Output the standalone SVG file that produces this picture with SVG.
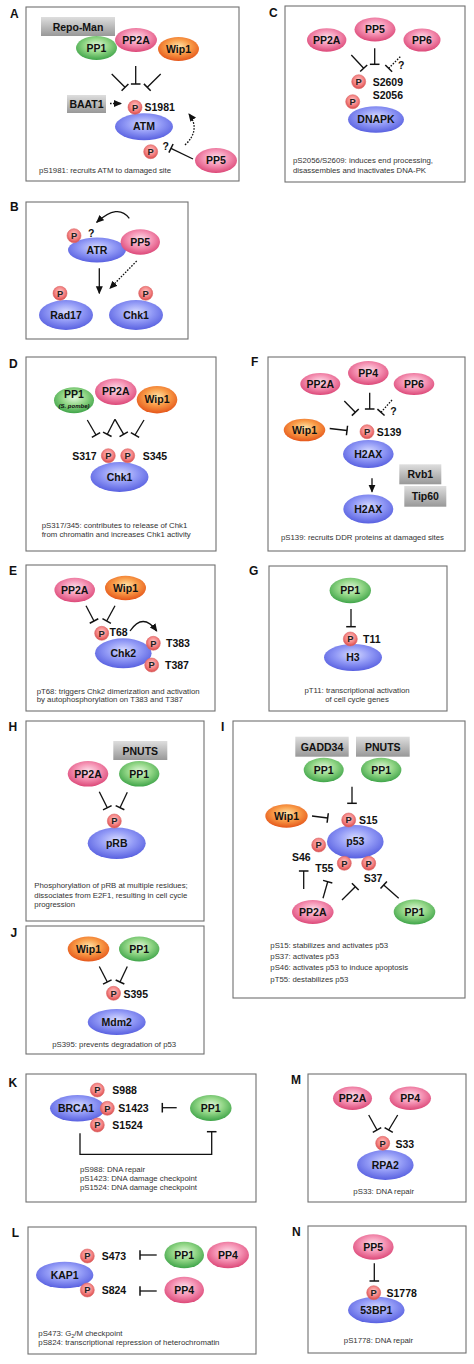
<svg xmlns="http://www.w3.org/2000/svg" width="474" height="1364" viewBox="0 0 474 1364">
<defs>
<style>
.bx{fill:#fff;stroke:#707070;stroke-width:1.1}
.pl{font-family:"Liberation Sans",Arial,sans-serif;font-weight:bold;font-size:12px;fill:#111}
.nt{font-family:"Liberation Sans",Arial,sans-serif;font-weight:bold;font-size:10.5px;fill:#111;text-anchor:middle}
.st{font-family:"Liberation Sans",Arial,sans-serif;font-weight:bold;font-size:10.5px;fill:#111}
.pt{font-family:"Liberation Sans",Arial,sans-serif;font-weight:bold;font-size:9.3px;fill:#222;text-anchor:middle}
.cap{font-family:"Liberation Sans",Arial,sans-serif;font-size:7.8px;fill:#333}
.g{fill:url(#gG)}.k{fill:url(#gK)}.o{fill:url(#gO)}.b{fill:url(#gB)}.gr{fill:url(#gGr)}
.pc{fill:url(#gP);stroke:#dc6a6a;stroke-width:0.6}
.inh{fill:none;stroke:#111;stroke-width:1.3;marker-end:url(#tb)}
.arr{fill:none;stroke:#111;stroke-width:1.3;marker-end:url(#ah)}
.dt{stroke-dasharray:1.6 1.4}
</style>
<radialGradient id="gG" cx="0.5" cy="0.4" r="0.6"><stop offset="0" stop-color="#e2f8dc"/><stop offset="0.5" stop-color="#92d686"/><stop offset="1" stop-color="#3fa449"/></radialGradient>
<radialGradient id="gK" cx="0.5" cy="0.4" r="0.6"><stop offset="0" stop-color="#fde2ec"/><stop offset="0.5" stop-color="#f593b4"/><stop offset="1" stop-color="#dc4878"/></radialGradient>
<radialGradient id="gO" cx="0.5" cy="0.4" r="0.6"><stop offset="0" stop-color="#ffe6aa"/><stop offset="0.5" stop-color="#f99c48"/><stop offset="1" stop-color="#e5561a"/></radialGradient>
<radialGradient id="gB" cx="0.5" cy="0.4" r="0.6"><stop offset="0" stop-color="#d6daff"/><stop offset="0.5" stop-color="#929af6"/><stop offset="1" stop-color="#5860e0"/></radialGradient>
<radialGradient id="gP" cx="0.5" cy="0.4" r="0.6"><stop offset="0" stop-color="#ffcaca"/><stop offset="0.6" stop-color="#f48282"/><stop offset="1" stop-color="#d84a4a"/></radialGradient>
<linearGradient id="gGr" x1="0" y1="0" x2="0" y2="1"><stop offset="0" stop-color="#dedede"/><stop offset="1" stop-color="#989898"/></linearGradient>
<marker id="tb" viewBox="-2 -6 4 12" refX="0" refY="0" markerWidth="4" markerHeight="12" orient="auto" markerUnits="userSpaceOnUse"><path d="M0,-4.8V4.8" stroke="#111" stroke-width="1.5"/></marker>
<marker id="ah" viewBox="0 -4 8 8" refX="7" refY="0" markerWidth="8" markerHeight="8" orient="auto" markerUnits="userSpaceOnUse"><path d="M0,-3.5L8,0L0,3.5z" fill="#111"/></marker>
</defs>
<rect width="474" height="1364" fill="#fff"/>

<!-- Panel A -->
<g id="panelA">
<rect class="bx" x="26" y="7" width="213" height="174"/>
<text class="pl" x="10" y="18">A</text>
<g id="A-RepoMan"><rect class="gr" x="41" y="17" width="74" height="19"/><text class="nt" x="78" y="30.5">Repo-Man</text></g>
<g id="A-PP1"><ellipse class="g" cx="96.5" cy="48" rx="20.5" ry="12"/><text class="nt" x="96.5" y="51.7">PP1</text></g>
<g id="A-Wip1"><ellipse class="o" cx="178.5" cy="49" rx="20.5" ry="12"/><text class="nt" x="178.5" y="52.7">Wip1</text></g>
<g id="A-PP2A"><ellipse class="k" cx="136" cy="40" rx="21" ry="12"/><text class="nt" x="136" y="43.7">PP2A</text></g>
<g id="A-BAAT1"><rect class="gr" x="67" y="95" width="39" height="18"/><text class="nt" x="86.5" y="107.7">BAAT1</text></g>
<g id="A-ATM"><ellipse class="b" cx="144" cy="126.7" rx="29" ry="13.5"/><text class="nt" x="144" y="130.4">ATM</text></g>
<g id="A-P1"><circle class="pc" cx="135" cy="107.3" r="7"/><text class="pt" x="135" y="110.6">P</text></g>
<text class="st" x="144.5" y="111">S1981</text>
<g id="A-P2"><circle class="pc" cx="150.7" cy="151.7" r="7"/><text class="pt" x="150.7" y="155">P</text></g>
<text class="st" x="162.5" y="150">?</text>
<g id="A-PP5"><ellipse class="k" cx="216" cy="160.5" rx="21" ry="12.5"/><text class="nt" x="216" y="164.2">PP5</text></g>
<text class="cap" x="39" y="173">pS1981: recruits ATM to damaged site</text>
</g>

<!-- Panel C -->
<g id="panelC">
<rect class="bx" x="285" y="6" width="180" height="176"/>
<text class="pl" x="269" y="16.7">C</text>
<g id="C-PP2A"><ellipse class="k" cx="326.7" cy="40" rx="19.7" ry="11.7"/><text class="nt" x="326.7" y="43.7">PP2A</text></g>
<g id="C-PP5"><ellipse class="k" cx="375" cy="29.5" rx="20.5" ry="12"/><text class="nt" x="375" y="33.2">PP5</text></g>
<g id="C-PP6"><ellipse class="k" cx="422" cy="40" rx="18.5" ry="11.5"/><text class="nt" x="422" y="43.7">PP6</text></g>
<text class="st" x="398" y="69">?</text>
<g id="C-DNAPK"><ellipse class="b" cx="376" cy="119.5" rx="28" ry="13.3"/><text class="nt" x="376" y="123.2">DNAPK</text></g>
<g id="C-P1"><circle class="pc" cx="358.7" cy="81.7" r="7"/><text class="pt" x="358.7" y="85">P</text></g>
<text class="st" x="372.7" y="85.5">S2609</text>
<g id="C-P2"><circle class="pc" cx="352.7" cy="101.7" r="7"/><text class="pt" x="352.7" y="105">P</text></g>
<text class="st" x="372.7" y="99">S2056</text>
<text class="cap" x="293" y="163.3">pS2056/S2609: induces end processing,</text>
<text class="cap" x="293" y="172.7">disassembles and inactivates DNA-PK</text>
</g>

<!-- Panel B -->
<g id="panelB">
<rect class="bx" x="26" y="202" width="162" height="137"/>
<text class="pl" x="10" y="211">B</text>
<g id="B-ATR"><ellipse class="b" cx="97" cy="250" rx="29" ry="12.5"/><text class="nt" x="97" y="253.7">ATR</text></g>
<g id="B-PP5"><ellipse class="k" cx="140.3" cy="242" rx="19.7" ry="12.8"/><text class="nt" x="140.3" y="245.7">PP5</text></g>
<g id="B-P1"><circle class="pc" cx="74" cy="235.7" r="7"/><text class="pt" x="74" y="239">P</text></g>
<text class="st" x="88" y="237">?</text>
<g id="B-Rad17"><ellipse class="b" cx="66" cy="315" rx="27" ry="15"/><text class="nt" x="66" y="318.7">Rad17</text></g>
<g id="B-Chk1"><ellipse class="b" cx="136" cy="315" rx="27" ry="15"/><text class="nt" x="136" y="318.7">Chk1</text></g>
<g id="B-P2"><circle class="pc" cx="60" cy="293.3" r="7"/><text class="pt" x="60" y="296.6">P</text></g>
<g id="B-P3"><circle class="pc" cx="145.7" cy="293.3" r="7"/><text class="pt" x="145.7" y="296.6">P</text></g>
</g>

<!-- Panel D -->
<g id="panelD">
<rect class="bx" x="26" y="357" width="190" height="194"/>
<text class="pl" x="9" y="367.7">D</text>
<g id="D-PP1"><ellipse class="g" cx="74" cy="400.3" rx="20" ry="13"/><text class="nt" x="74" y="398">PP1</text><text x="74" y="407.5" font-family="Liberation Sans, Arial, sans-serif" font-size="6" font-weight="bold" font-style="italic" fill="#111" text-anchor="middle">(S. pombe)</text></g>
<g id="D-Wip1"><ellipse class="o" cx="157" cy="399.7" rx="20.3" ry="13.7"/><text class="nt" x="157" y="403.4">Wip1</text></g>
<g id="D-PP2A"><ellipse class="k" cx="115.8" cy="391.7" rx="20.8" ry="13.3"/><text class="nt" x="115.8" y="395.4">PP2A</text></g>
<g id="D-Chk1"><ellipse class="b" cx="119.5" cy="477" rx="29" ry="15"/><text class="nt" x="119.5" y="480.7">Chk1</text></g>
<g id="D-P1"><circle class="pc" cx="108.3" cy="455.7" r="7"/><text class="pt" x="108.3" y="459">P</text></g>
<g id="D-P2"><circle class="pc" cx="127.7" cy="455.7" r="7"/><text class="pt" x="127.7" y="459">P</text></g>
<text class="st" x="96.7" y="459.5" text-anchor="end">S317</text>
<text class="st" x="142.7" y="459.5">S345</text>
<text class="cap" x="41.7" y="528.3">pS317/345: contributes to release of Chk1</text>
<text class="cap" x="41.7" y="536.5">from chromatin and increases Chk1 activity</text>
</g>

<!-- Panel F -->
<g id="panelF">
<rect class="bx" x="268" y="357" width="197" height="194"/>
<text class="pl" x="251" y="365.7">F</text>
<g id="F-PP2A"><ellipse class="k" cx="320.3" cy="384" rx="20" ry="11"/><text class="nt" x="320.3" y="387.7">PP2A</text></g>
<g id="F-PP4"><ellipse class="k" cx="368.3" cy="373" rx="20.3" ry="12"/><text class="nt" x="368.3" y="376.7">PP4</text></g>
<g id="F-PP6"><ellipse class="k" cx="414" cy="384" rx="20.3" ry="11"/><text class="nt" x="414" y="387.7">PP6</text></g>
<text class="st" x="390.3" y="415">?</text>
<g id="F-Wip1"><ellipse class="o" cx="304.5" cy="430" rx="20.8" ry="11.3"/><text class="nt" x="304.5" y="433.7">Wip1</text></g>
<g id="F-H2AX1"><ellipse class="b" cx="368.3" cy="454" rx="25.3" ry="14"/><text class="nt" x="368.3" y="457.7">H2AX</text></g>
<g id="F-P"><circle class="pc" cx="367" cy="431.7" r="7"/><text class="pt" x="367" y="435">P</text></g>
<text class="st" x="376.8" y="436">S139</text>
<g id="F-Rvb1"><rect class="gr" x="399.3" y="464.3" width="42" height="20"/><text class="nt" x="420.3" y="478">Rvb1</text></g>
<g id="F-Tip60"><rect class="gr" x="404.3" y="486" width="42" height="20.7"/><text class="nt" x="425.3" y="500">Tip60</text></g>
<g id="F-H2AX2"><ellipse class="b" cx="368.3" cy="509" rx="25" ry="14.5"/><text class="nt" x="368.3" y="512.7">H2AX</text></g>
<text class="cap" x="281" y="540">pS139: recruits DDR proteins at damaged sites</text>
</g>

<!-- Panel E -->
<g id="panelE">
<rect class="bx" x="26" y="565" width="189" height="146"/>
<text class="pl" x="9" y="575">E</text>
<g id="E-PP2A"><ellipse class="k" cx="74.7" cy="590" rx="20.3" ry="12.3"/><text class="nt" x="74.7" y="593.7">PP2A</text></g>
<g id="E-Wip1"><ellipse class="o" cx="125.5" cy="588" rx="20.5" ry="12.2"/><text class="nt" x="125.5" y="591.7">Wip1</text></g>
<g id="E-Chk2"><ellipse class="b" cx="123.3" cy="653.3" rx="28.3" ry="15"/><text class="nt" x="123.3" y="657">Chk2</text></g>
<g id="E-P1"><circle class="pc" cx="101.7" cy="633.3" r="7"/><text class="pt" x="101.7" y="636.6">P</text></g>
<text class="st" x="109.5" y="635.5">T68</text>
<g id="E-P2"><circle class="pc" cx="153.3" cy="643.3" r="7"/><text class="pt" x="153.3" y="646.6">P</text></g>
<text class="st" x="166" y="647">T383</text>
<g id="E-P3"><circle class="pc" cx="151.7" cy="665" r="7"/><text class="pt" x="151.7" y="668.3">P</text></g>
<text class="st" x="165" y="668.5">T387</text>
<text class="cap" x="36.7" y="694">pT68: triggers Chk2 dimerization and activation</text>
<text class="cap" x="36.7" y="702.3">by autophosphorylation on T383 and T387</text>
</g>

<!-- Panel G -->
<g id="panelG">
<rect class="bx" x="269" y="566" width="178" height="145"/>
<text class="pl" x="249" y="575">G</text>
<g id="G-PP1"><ellipse class="g" cx="350.3" cy="590.5" rx="20.7" ry="12.8"/><text class="nt" x="350.3" y="594.2">PP1</text></g>
<g id="G-H3"><ellipse class="b" cx="353" cy="657.5" rx="29" ry="13.5"/><text class="nt" x="353" y="661.2">H3</text></g>
<g id="G-P"><circle class="pc" cx="350.3" cy="639" r="7"/><text class="pt" x="350.3" y="642.3">P</text></g>
<text class="st" x="363" y="642.5">T11</text>
<text class="cap" x="357" y="693.3" text-anchor="middle">pT11: transcriptional activation</text>
<text class="cap" x="357" y="701.7" text-anchor="middle">of cell cycle genes</text>
</g>

<!-- Panel H -->
<g id="panelH">
<rect class="bx" x="26" y="721" width="178" height="200"/>
<text class="pl" x="8.5" y="731">H</text>
<g id="H-PNUTS"><rect class="gr" x="113.3" y="741" width="54" height="19"/><text class="nt" x="140.3" y="754.5">PNUTS</text></g>
<g id="H-PP2A"><ellipse class="k" cx="88" cy="773.8" rx="20.3" ry="12.8"/><text class="nt" x="88" y="777.5">PP2A</text></g>
<g id="H-PP1"><ellipse class="g" cx="139.2" cy="773.8" rx="20.2" ry="12.8"/><text class="nt" x="139.2" y="777.5">PP1</text></g>
<g id="H-pRB"><ellipse class="b" cx="116.7" cy="843.3" rx="29" ry="15.7"/><text class="nt" x="116.7" y="847">pRB</text></g>
<g id="H-P"><circle class="pc" cx="114.3" cy="821" r="7"/><text class="pt" x="114.3" y="824.3">P</text></g>
<text class="cap" x="34.3" y="888.3">Phosphorylation of pRB at multiple residues;</text>
<text class="cap" x="34.3" y="897.7">dissociates from E2F1, resulting in cell cycle</text>
<text class="cap" x="34.3" y="906.7">progression</text>
</g>

<!-- Panel J -->
<g id="panelJ">
<rect class="bx" x="26" y="926" width="178" height="128"/>
<text class="pl" x="10.5" y="937.3">J</text>
<g id="J-Wip1"><ellipse class="o" cx="88.5" cy="949" rx="20.8" ry="12.5"/><text class="nt" x="88.5" y="952.7">Wip1</text></g>
<g id="J-PP1"><ellipse class="g" cx="139.2" cy="949" rx="20.2" ry="12.5"/><text class="nt" x="139.2" y="952.7">PP1</text></g>
<g id="J-Mdm2"><ellipse class="b" cx="116.7" cy="1022" rx="29" ry="13"/><text class="nt" x="116.7" y="1025.7">Mdm2</text></g>
<g id="J-P"><circle class="pc" cx="113.5" cy="993.3" r="7"/><text class="pt" x="113.5" y="996.6">P</text></g>
<text class="st" x="123.5" y="997.7">S395</text>
<text class="cap" x="114.2" y="1046.7" text-anchor="middle">pS395: prevents degradation of p53</text>
</g>

<!-- Panel I -->
<g id="panelI">
<rect class="bx" x="233" y="721" width="232" height="277"/>
<text class="pl" x="221" y="731">I</text>
<g id="I-GADD34"><rect class="gr" x="295.3" y="736.7" width="53.4" height="20"/><text class="nt" x="322" y="750.5">GADD34</text></g>
<g id="I-PNUTS"><rect class="gr" x="356" y="736.7" width="53.7" height="20"/><text class="nt" x="382.8" y="750.5">PNUTS</text></g>
<g id="I-PP1a"><ellipse class="g" cx="323.7" cy="770" rx="20" ry="12.3"/><text class="nt" x="323.7" y="773.7">PP1</text></g>
<g id="I-PP1b"><ellipse class="g" cx="381.2" cy="770" rx="20.2" ry="12.3"/><text class="nt" x="381.2" y="773.7">PP1</text></g>
<g id="I-Wip1"><ellipse class="o" cx="286.5" cy="816" rx="21.2" ry="11.7"/><text class="nt" x="286.5" y="819.7">Wip1</text></g>
<g id="I-p53"><ellipse class="b" cx="355.3" cy="841.7" rx="28.3" ry="16.7"/><text class="nt" x="355.3" y="845.4">p53</text></g>
<g id="I-P15"><circle class="pc" cx="348.7" cy="820" r="7"/><text class="pt" x="348.7" y="823.3">P</text></g>
<text class="st" x="359" y="824.3">S15</text>
<g id="I-P46"><circle class="pc" cx="318.7" cy="845" r="7"/><text class="pt" x="318.7" y="848.3">P</text></g>
<text class="st" x="292" y="861">S46</text>
<g id="I-P55"><circle class="pc" cx="344.3" cy="863.3" r="7"/><text class="pt" x="344.3" y="866.6">P</text></g>
<text class="st" x="315.3" y="871.7">T55</text>
<g id="I-P37"><circle class="pc" cx="368.7" cy="863.3" r="7"/><text class="pt" x="368.7" y="866.6">P</text></g>
<text class="st" x="363.7" y="882.3">S37</text>
<g id="I-PP2A"><ellipse class="k" cx="312.8" cy="912" rx="20.8" ry="12"/><text class="nt" x="312.8" y="915.7">PP2A</text></g>
<g id="I-PP1c"><ellipse class="g" cx="414.5" cy="912" rx="20.8" ry="12.5"/><text class="nt" x="414.5" y="915.7">PP1</text></g>
<text class="cap" x="270.3" y="947.7">pS15: stabilizes and activates p53</text>
<text class="cap" x="270.3" y="959">pS37: activates p53</text>
<text class="cap" x="270.3" y="970.3">pS46: activates p53 to induce apoptosis</text>
<text class="cap" x="270.3" y="981.7">pT55: destabilizes p53</text>
</g>

<!-- Panel K -->
<g id="panelK">
<rect class="bx" x="26" y="1074" width="230" height="128"/>
<text class="pl" x="8.5" y="1087.3">K</text>
<g id="K-BRCA1"><ellipse class="b" cx="77.5" cy="1108.3" rx="27.5" ry="13.3"/><text class="nt" x="76" y="1112">BRCA1</text></g>
<g id="K-P988"><circle class="pc" cx="97.3" cy="1090" r="7"/><text class="pt" x="97.3" y="1093.3">P</text></g>
<text class="st" x="112.3" y="1093.5">S988</text>
<g id="K-P1423"><circle class="pc" cx="107.3" cy="1108.3" r="7"/><text class="pt" x="107.3" y="1111.6">P</text></g>
<text class="st" x="118.3" y="1112">S1423</text>
<g id="K-P1524"><circle class="pc" cx="97.3" cy="1125" r="7"/><text class="pt" x="97.3" y="1128.3">P</text></g>
<text class="st" x="112.3" y="1128.5">S1524</text>
<g id="K-PP1"><ellipse class="g" cx="210.8" cy="1108" rx="20.8" ry="13"/><text class="nt" x="210.8" y="1111.7">PP1</text></g>
<text class="cap" x="80" y="1171.7">pS988: DNA repair</text>
<text class="cap" x="80" y="1180.5">pS1423: DNA damage checkpoint</text>
<text class="cap" x="80" y="1189.5">pS1524: DNA damage checkpoint</text>
</g>

<!-- Panel M -->
<g id="panelM">
<rect class="bx" x="308" y="1074" width="158" height="128"/>
<text class="pl" x="291" y="1084.3">M</text>
<g id="M-PP2A"><ellipse class="k" cx="352.5" cy="1098.3" rx="19.5" ry="11.7"/><text class="nt" x="352.5" y="1102">PP2A</text></g>
<g id="M-PP4"><ellipse class="k" cx="410.3" cy="1098.3" rx="20.7" ry="11.7"/><text class="nt" x="410.3" y="1102">PP4</text></g>
<g id="M-RPA2"><ellipse class="b" cx="385.3" cy="1165" rx="28.3" ry="15"/><text class="nt" x="385.3" y="1168.7">RPA2</text></g>
<g id="M-P"><circle class="pc" cx="382.7" cy="1143.3" r="7"/><text class="pt" x="382.7" y="1146.6">P</text></g>
<text class="st" x="395.5" y="1147.7">S33</text>
<text class="cap" x="383.7" y="1194.3" text-anchor="middle">pS33: DNA repair</text>
</g>

<!-- Panel N -->
<g id="panelN">
<rect class="bx" x="308" y="1226" width="158" height="127"/>
<text class="pl" x="292" y="1235.7">N</text>
<g id="N-PP5"><ellipse class="k" cx="373.3" cy="1247" rx="20.3" ry="12.8"/><text class="nt" x="373.3" y="1250.7">PP5</text></g>
<g id="N-53BP1"><ellipse class="b" cx="376.3" cy="1310" rx="28.3" ry="13.3"/><text class="nt" x="376.3" y="1313.7">53BP1</text></g>
<g id="N-P"><circle class="pc" cx="373.7" cy="1292.7" r="7"/><text class="pt" x="373.7" y="1296">P</text></g>
<text class="st" x="386.5" y="1296.7">S1778</text>
<text class="cap" x="378.5" y="1343.3" text-anchor="middle">pS1778: DNA repair</text>
</g>

<!-- Panel L -->
<g id="panelL">
<rect class="bx" x="28" y="1227" width="228" height="127"/>
<text class="pl" x="11.7" y="1236.7">L</text>
<g id="L-KAP1"><ellipse class="b" cx="64.7" cy="1275" rx="28.7" ry="13.3"/><text class="nt" x="64.7" y="1278.7">KAP1</text></g>
<g id="L-P473"><circle class="pc" cx="87.3" cy="1256" r="7"/><text class="pt" x="87.3" y="1259.3">P</text></g>
<text class="st" x="101.7" y="1260">S473</text>
<g id="L-P824"><circle class="pc" cx="87.3" cy="1290" r="7"/><text class="pt" x="87.3" y="1293.3">P</text></g>
<text class="st" x="101.7" y="1294.3">S824</text>
<g id="L-PP1"><ellipse class="g" cx="184.2" cy="1255" rx="19.8" ry="13.3"/><text class="nt" x="184.2" y="1258.7">PP1</text></g>
<g id="L-PP4a"><ellipse class="k" cx="228" cy="1255" rx="21" ry="13.3"/><text class="nt" x="228" y="1258.7">PP4</text></g>
<g id="L-PP4b"><ellipse class="k" cx="184.2" cy="1290" rx="19.8" ry="13.3"/><text class="nt" x="184.2" y="1293.7">PP4</text></g>
<text class="cap" x="38.3" y="1335.7">pS473: G<tspan font-size="5.5" dy="1.8">2</tspan><tspan dy="-1.8">/M checkpoint</tspan></text>
<text class="cap" x="38.3" y="1345">pS824: transcriptional repression of heterochromatin</text>
</g>

<!-- Connectors -->
<g id="connectors">
<path class="inh" d="M111.7,74L125,87.3"/>
<path class="inh" d="M135.7,66V84"/>
<path class="inh" d="M160.7,74L147.3,87.3"/>
<path class="arr dt" d="M110,103.5H121"/>
<path class="inh" d="M193,159L171,148.3"/>
<path class="arr dt" d="M185,145Q201,130 189,114"/>

<path class="inh" d="M351.3,55L363.7,68.3"/>
<path class="inh" d="M374.7,48.3V64.3"/>
<path class="inh dt" d="M400.3,56.7L388.7,68.3"/>

<path class="arr" d="M129.3,218.3Q118,203 96.7,222.3"/>
<path class="arr" d="M99.3,268.3V293.3"/>
<path class="arr dt" d="M136.7,261L110,288.3"/>

<path class="inh" d="M87.3,420L96,435"/>
<path class="inh" d="M115,419.3L107.3,434.3"/>
<path class="inh" d="M115,419.3L123.7,434.3"/>
<path class="inh" d="M144,420L135,435"/>

<path class="inh" d="M344.3,401L355.3,412.3"/>
<path class="inh" d="M369.7,392.7V409"/>
<path class="inh dt" d="M392,400L381,412.3"/>
<path class="inh" d="M329.7,428.5L347,430.5"/>
<path class="arr" d="M372,478.3V491.7"/>

<path class="inh" d="M86,605.7L94,621"/>
<path class="inh" d="M115,605.7L106.7,621"/>
<path class="arr" d="M130,631Q143,612 156.7,631"/>

<path class="inh" d="M351,609V626.7"/>

<path class="inh" d="M99.3,791.7L107.3,807.7"/>
<path class="inh" d="M127.3,792.3L120,807.7"/>

<path class="inh" d="M99.3,966.5L107.3,982"/>
<path class="inh" d="M127.3,966.5L120,982"/>

<path class="inh" d="M352,786.7V803.3"/>
<path class="inh" d="M312,816L327.7,818"/>
<path class="inh" d="M303.7,889V871"/>
<path class="inh" d="M323,898.3L327.7,881.7"/>
<path class="inh" d="M342,900L355.3,886.7"/>
<path class="inh" d="M398.7,898.3L383.7,885"/>

<path class="inh" d="M176.7,1107.7H162.3"/>
<path class="inh" d="M80,1133.3V1154.3H211.7V1131.7"/>

<path class="inh" d="M368.7,1115L377,1130"/>
<path class="inh" d="M397.7,1115L388.7,1130"/>

<path class="inh" d="M374.3,1263.3V1281"/>

<path class="inh" d="M156.7,1255H140"/>
<path class="inh" d="M156.7,1291H140"/>
</g>
</svg>
